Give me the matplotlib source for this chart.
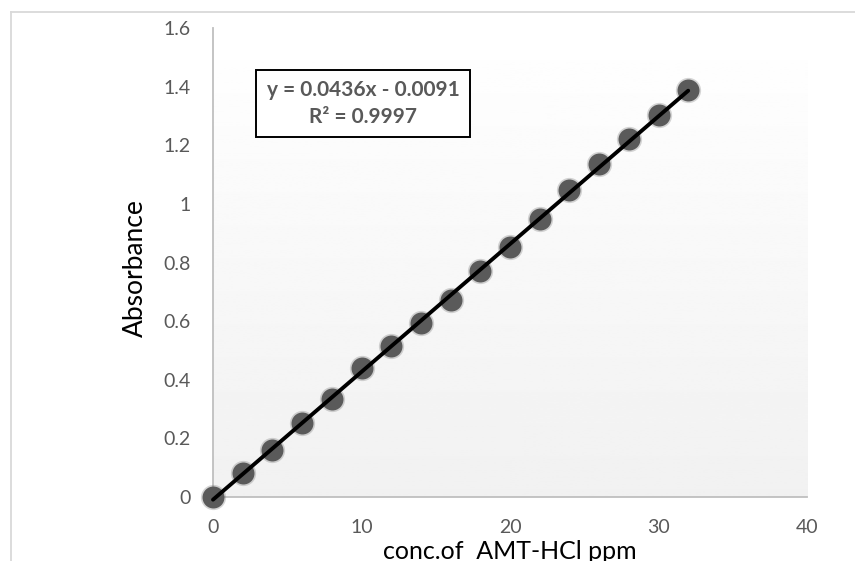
import matplotlib
matplotlib.use('Agg')
import numpy as np
import matplotlib.pyplot as plt
from matplotlib.patches import Rectangle
from matplotlib.lines import Line2D

plt.rcParams['font.family'] = ['Lato', 'DejaVu Sans']

# Data
conc = [0, 2, 4, 6, 8, 10, 12, 14, 16, 18, 20, 22, 24, 26, 28, 30, 32]
absorbance = [0, 0.083, 0.160, 0.254, 0.333, 0.439, 0.516, 0.595, 0.672,
              0.771, 0.853, 0.948, 1.048, 1.135, 1.221, 1.304, 1.387]
slope = 0.0436
intercept = -0.0091
x_ticks = [0, 10, 20, 30, 40]
y_ticks = [0, 0.2, 0.4, 0.6, 0.8, 1.0, 1.2, 1.4, 1.6]
y_tick_labels = ['0', '0.2', '0.4', '0.6', '0.8', '1', '1.2', '1.4', '1.6']

GRAY_TXT = '#595959'
AXIS_GRAY = '#bfbfbf'

fig = plt.figure(figsize=(8.55, 5.61), dpi=100)
ax = fig.add_axes([213 / 855, 1 - 497 / 561, 594 / 855, 469 / 561])

# gradient plot area background (white top -> light gray bottom)
grad = np.linspace(1.0, 0.0, 256).reshape(-1, 1)
ax.imshow(grad, extent=[0, 40, 0, 1.6], aspect='auto', cmap='gray',
          vmin=-17, vmax=1.0, zorder=0, origin='upper')
ax.set_xlim(0, 40)
ax.set_ylim(0, 1.6)

# markers with a soft edge
ax.scatter(conc, absorbance, s=330, color='#5a5a5a', alpha=0.25, lw=0,
           zorder=2, clip_on=False)
ax.scatter(conc, absorbance, s=250, color='#5a5a5a', lw=0, zorder=3,
           clip_on=False)

# linear trendline
xs = np.array([conc[0], conc[-1]])
ax.plot(xs, slope * xs + intercept, color='black', lw=2.8, zorder=4,
        clip_on=False, solid_capstyle='round')

for side in ['top', 'right']:
    ax.spines[side].set_visible(False)
for side in ['left', 'bottom']:
    ax.spines[side].set_color(AXIS_GRAY)
    ax.spines[side].set_linewidth(1.3)
    ax.spines[side].set_zorder(1)

ax.set_xticks(x_ticks)
ax.set_yticks(y_ticks)
ax.set_yticklabels(y_tick_labels)
ax.tick_params(axis='both', length=0, labelsize=14, colors=GRAY_TXT)
ax.tick_params(axis='y', pad=16)
ax.tick_params(axis='x', pad=16)

fig.text(135 / 855, 1 - 268 / 561, 'Absorbance', rotation=90, fontsize=19,
         ha='center', va='center', color='black')
fig.text(510 / 855, 1 - 540 / 561, 'conc.of  AMT-HCl ppm', fontsize=18,
         ha='center', va='top', color='black')

# equation box
fig.patches.append(Rectangle((256 / 855, 1 - 137 / 561), 214 / 855, 67 / 561,
                             transform=fig.transFigure, facecolor='white',
                             edgecolor='black', lw=1.4, zorder=5))
fig.text(363 / 855, 1 - 90 / 561, 'y = 0.0436x - 0.0091', fontsize=15,
         fontweight='bold', color=GRAY_TXT, ha='center', va='center', zorder=6)
fig.text(363 / 855, 1 - 117 / 561, 'R² = 0.9997', fontsize=15,
         fontweight='bold', color=GRAY_TXT, ha='center', va='center', zorder=6)

# outer chart border
fig.lines.append(Line2D([11 / 855, 11 / 855], [0, 1 - 12 / 561],
                        transform=fig.transFigure, color='#d9d9d9', lw=1.3))
fig.lines.append(Line2D([11 / 855, 1], [1 - 12 / 561, 1 - 12 / 561],
                        transform=fig.transFigure, color='#d9d9d9', lw=1.3))

fig.savefig('out.png', dpi=100, facecolor='white')
